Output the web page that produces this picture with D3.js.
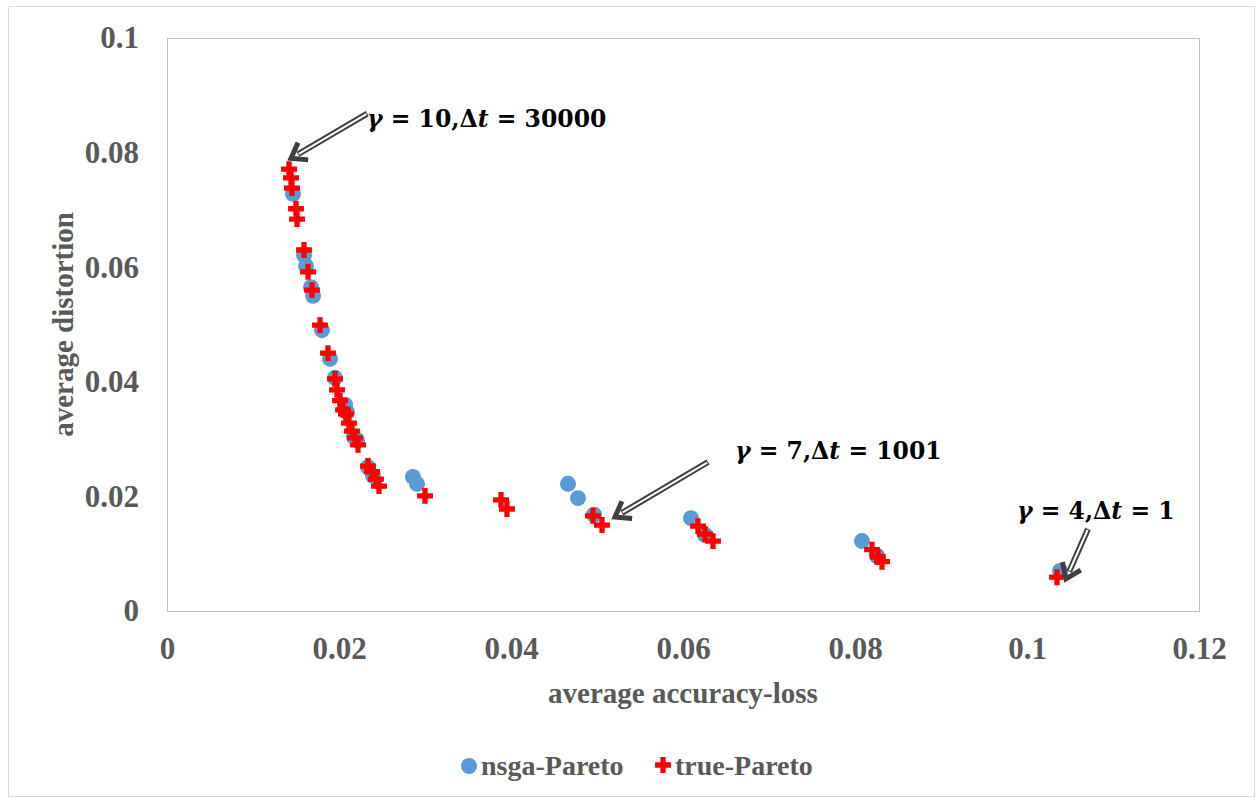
<!DOCTYPE html>
<html>
<head>
<meta charset="utf-8">
<script src="https://cdn.jsdelivr.net/npm/d3@7"></script>
<style>
  body { margin: 0; background: #fff; }
  svg text { font-family: "Liberation Serif", "Times New Roman", serif; font-weight: bold; }
</style>
</head>
<body>
<svg id="chart" width="1259" height="799"></svg>
<script>
// nsga-Pareto points [accuracy-loss, distortion]
const nsgaX = [0.01465, 0.01593, 0.01616, 0.01674, 0.01698, 0.01802, 0.01895, 0.01953,
  0.02070, 0.02093, 0.02174, 0.02209, 0.02337, 0.02395, 0.02860, 0.02907,
  0.04663, 0.04779, 0.04965, 0.06093, 0.06256, 0.08081, 0.08256, 0.10384];
const nsgaY = [0.0728, 0.0621, 0.0602, 0.0565, 0.0550, 0.0490, 0.0440, 0.0407,
  0.0360, 0.0347, 0.0304, 0.0298, 0.0251, 0.0236, 0.0234, 0.0222,
  0.0222, 0.0197, 0.0168, 0.0162, 0.0133, 0.0122, 0.0096, 0.0070];

// true-Pareto points
const trueX = [0.01419, 0.01442, 0.01453, 0.01500, 0.01512, 0.01593, 0.01640, 0.01686,
  0.01779, 0.01872, 0.01953, 0.01977, 0.02012, 0.02047, 0.02081, 0.02116,
  0.02151, 0.02186, 0.02221, 0.02337, 0.02384, 0.02430, 0.02465, 0.03000,
  0.03884, 0.03953, 0.04953, 0.05058, 0.06174, 0.06256, 0.06349, 0.08198,
  0.08267, 0.08314, 0.10349];
const trueY = [0.0771, 0.0756, 0.0738, 0.0702, 0.0684, 0.0630, 0.0592, 0.0560,
  0.0499, 0.0450, 0.0405, 0.0386, 0.0367, 0.0351, 0.0344, 0.0328,
  0.0314, 0.0302, 0.0290, 0.0253, 0.0243, 0.0230, 0.0218, 0.0201,
  0.0194, 0.0178, 0.0166, 0.0150, 0.0148, 0.0134, 0.0122, 0.0107,
  0.0094, 0.0086, 0.0059];

const xTicks = [0, 0.02, 0.04, 0.06, 0.08, 0.1, 0.12];
const yTicks = [0, 0.02, 0.04, 0.06, 0.08, 0.1];

// annotations: label parts, arrow tail and tip in data units
const notes = [
  { gamma: "10", dt: "30000", tail: [0.02328, 0.0868], tip: [0.01442, 0.0790] },
  { gamma: "7", dt: "1001", tail: [0.06291, 0.0260], tip: [0.05209, 0.0164] },
  { gamma: "4", dt: "1", tail: [0.10709, 0.0143], tip: [0.10453, 0.0056] }
];
const noteText = [[367, 127], [735, 459], [1017, 519]];

const svg = d3.select("#chart");
const grey = "#595959";

// outer chart border
svg.append("rect")
  .attr("x", 8.5).attr("y", 6.5)
  .attr("width", 1246).attr("height", 790)
  .attr("fill", "none").attr("stroke", "#d9d9d9");

const x = d3.scaleLinear().domain([0, 0.12]).range([167, 1199]);
const y = d3.scaleLinear().domain([0, 0.1]).range([611, 38]);

// plot area frame
svg.append("rect")
  .attr("x", x(0) + 0.5).attr("y", y(0.1) + 0.5)
  .attr("width", x(0.12) - x(0)).attr("height", y(0) - y(0.1))
  .attr("fill", "none").attr("stroke", "#bfbfbf");

const fmt = d3.format("~g");

let xAxis = svg.append("g")
  .attr("transform", `translate(0, ${y(0)})`)
  .call(d3.axisBottom(x).tickValues(xTicks).tickSize(0).tickPadding(26).tickFormat(fmt));
let yAxis = svg.append("g")
  .attr("transform", `translate(${x(0)}, 0)`)
  .call(d3.axisLeft(y).tickValues(yTicks).tickSize(0).tickPadding(28).tickFormat(fmt));

[xAxis, yAxis].forEach(g => {
  g.select(".domain").remove();
  g.selectAll("text")
    .attr("fill", grey)
    .style("font-size", "31px")
    .style("font-family", "Liberation Serif, serif")
    .style("font-weight", "bold");
});

// axis titles
svg.append("text")
  .attr("x", (x(0) + x(0.12)) / 2).attr("y", 703)
  .attr("text-anchor", "middle")
  .attr("fill", grey)
  .style("font-size", "29px")
  .text("average accuracy-loss");

svg.append("text")
  .attr("transform", `translate(63, ${(y(0) + y(0.1)) / 2}) rotate(-90)`)
  .attr("text-anchor", "middle")
  .attr("dy", "0.35em")
  .attr("fill", grey)
  .style("font-size", "29px")
  .text("average distortion");

// series
const circle = d3.symbol().type(d3.symbolCircle).size(200);
const cross = d3.symbol().type(d3.symbolCross).size(140);

svg.append("g").selectAll("path")
  .data(d3.range(nsgaX.length))
  .enter()
  .append("path")
  .attr("d", circle)
  .attr("transform", i => `translate(${x(nsgaX[i])}, ${y(nsgaY[i])})`)
  .attr("fill", "#5b9bd5");

svg.append("g").selectAll("path")
  .data(d3.range(trueX.length))
  .enter()
  .append("path")
  .attr("d", cross)
  .attr("transform", i => `translate(${x(trueX[i])}, ${y(trueY[i])})`)
  .attr("fill", "#ff0000");

// annotations with double-line arrows
notes.forEach((n, k) => {
  const x1 = x(n.tail[0]), y1 = y(n.tail[1]);
  const x2 = x(n.tip[0]), y2 = y(n.tip[1]);
  const ang = Math.atan2(y2 - y1, x2 - x1);
  const len = Math.hypot(x2 - x1, y2 - y1);
  const g = svg.append("g")
    .attr("transform", `translate(${x1}, ${y1}) rotate(${ang * 180 / Math.PI})`);

  g.append("line")
    .attr("x1", 0).attr("y1", 0).attr("x2", len - 8).attr("y2", 0)
    .attr("stroke", "#404040").attr("stroke-width", 6);
  g.append("line")
    .attr("x1", 1).attr("y1", 0).attr("x2", len - 9).attr("y2", 0)
    .attr("stroke", "#fff").attr("stroke-width", 2);
  g.append("path")
    .attr("d", `M${len - 14},-10 L${len},0 L${len - 14},10`)
    .attr("fill", "none")
    .attr("stroke", "#404040")
    .attr("stroke-width", 5)
    .attr("stroke-linejoin", "miter");

  const t = svg.append("text")
    .attr("x", noteText[k][0]).attr("y", noteText[k][1])
    .attr("fill", "#000")
    .style("font-family", "DejaVu Serif, serif")
    .style("font-size", "23.5px");
  t.append("tspan").style("font-style", "italic").text("γ");
  t.append("tspan").text(" = " + n.gamma + ",Δ");
  t.append("tspan").style("font-style", "italic").text("t");
  t.append("tspan").text(" = " + n.dt);
});

// legend
const legend = svg.append("g");
legend.append("path")
  .attr("d", circle)
  .attr("transform", "translate(469, 766)")
  .attr("fill", "#5b9bd5");
legend.append("text")
  .attr("x", 481).attr("y", 775)
  .attr("fill", grey)
  .style("font-size", "28px")
  .text("nsga-Pareto");
legend.append("path")
  .attr("d", cross)
  .attr("transform", "translate(663, 765)")
  .attr("fill", "#ff0000");
legend.append("text")
  .attr("x", 675).attr("y", 775)
  .attr("fill", grey)
  .style("font-size", "28px")
  .text("true-Pareto");
</script>
</body>
</html>
